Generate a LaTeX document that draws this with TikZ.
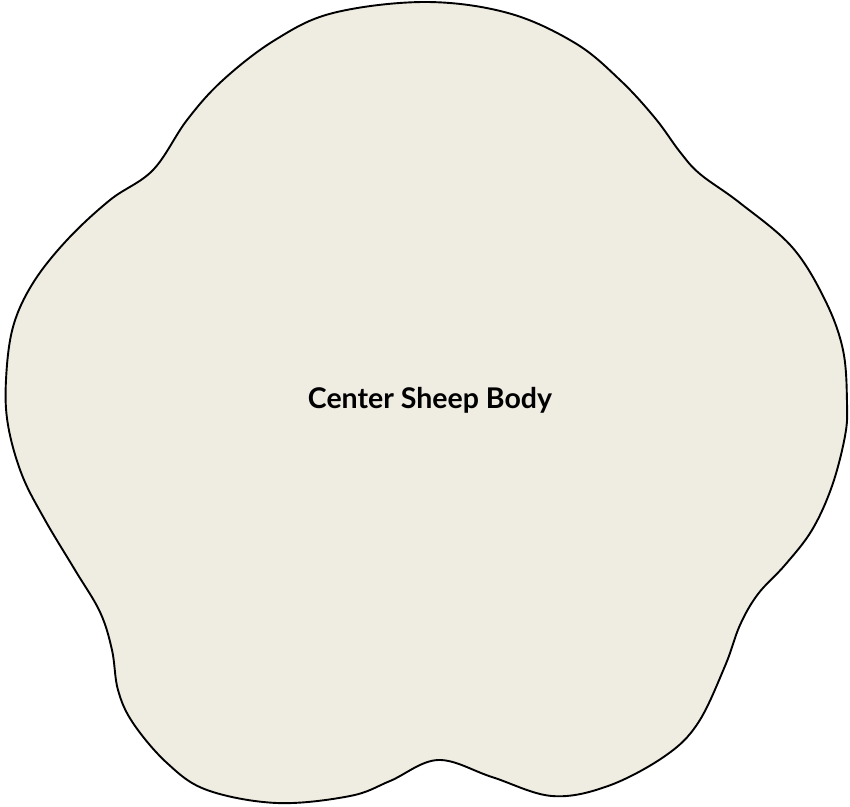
\documentclass[tikz,border=0pt]{standalone}
\usepackage{fontspec}
\setmainfont{Lato}
\usetikzlibrary{positioning}
\definecolor{woolbeige}{RGB}{239,236,225}

\begin{document}
\begin{tikzpicture}[x=1pt, y=-1pt, every node/.style={font=\bfseries}]
  \tikzset{
    body/.style={draw=black, line width=1.9pt, fill=woolbeige, line join=round},
    bodylabel/.style={font=\fontsize{28.5}{32}\selectfont\bfseries, text=black}
  }
  \useasboundingbox (0,0) rectangle (850,806);

  % sheep body outline, five woolly lobes
  \draw[body] plot[smooth cycle, tension=0.6] coordinates {
    (425,2) (508,13) (575,43) (620,80) (655,118) (680,152) (700,174)
    (740,203) (792,247) (825,300) (843,350) (847,403)
    (845,436) (832,486) (812,530) (785,565) (758,594)
    (740,625) (725,666) (698,723) (665,756) (608,786) (552,796)
    (492,777) (438,760) (390,781) (350,796) (277,803) (207,790)
    (167,763) (133,723) (118,690) (112,650) (100,612) (75,570)
    (45,520) (22,475) (8,425) (6,380) (13,327) (33,283)
    (67,240) (110,200) (153,170) (187,120) (223,80) (275,40) (333,13)
  };

  \node[bodylabel] (body) at (430,400) {Center Sheep Body};
\end{tikzpicture}
\end{document}
